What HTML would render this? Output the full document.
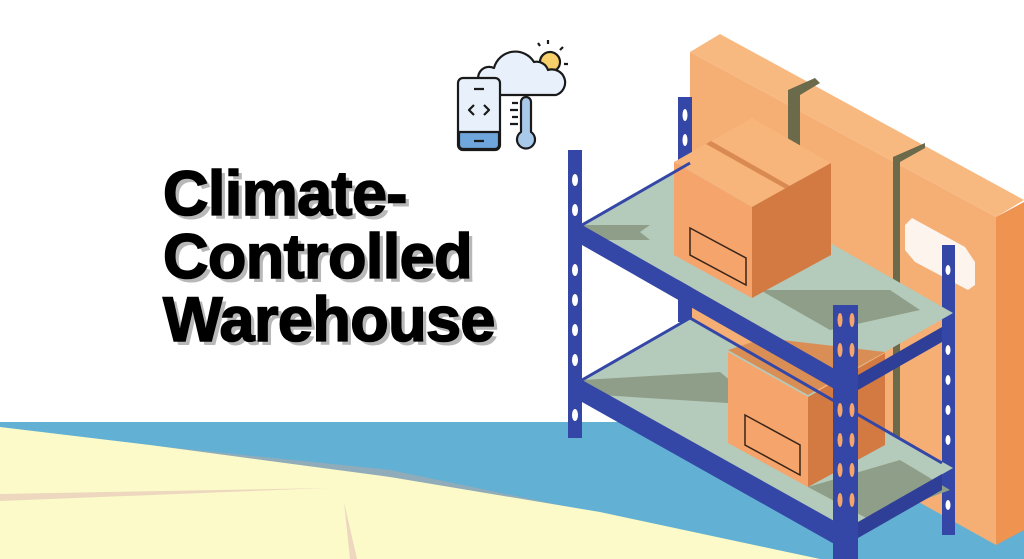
<!DOCTYPE html>
<html><head><meta charset="utf-8"><style>
html,body{margin:0;padding:0;background:#fff;width:1024px;height:559px;overflow:hidden}
.t{position:absolute;left:163px;top:163px;font-family:"Liberation Sans",sans-serif;font-weight:bold;font-size:63px;line-height:63px;color:#000;transform:scaleX(1.0);transform-origin:0 0;letter-spacing:-0.6px;-webkit-text-stroke:1.6px #000;text-shadow:4px 4px 0 #b8b8b8}
</style></head><body>
<svg width="1024" height="559" style="position:absolute;left:0;top:0">
<rect x="0" y="422" width="1024" height="137" fill="#62b0d3"/>
<polygon points="0,430 390,470 820,559 0,559" fill="#c9a79a" opacity="0.45"/>
<polygon points="0,427 150,445 300,465 390,477 600,512 820,559 0,559" fill="#fbfac8"/>
<polygon points="0,494 327,488 0,501" fill="#edd7bf"/>
<polygon points="344,502 350,559 357,559" fill="#edd7bf"/>
<!-- big boxes -->
<polygon points="690,52 720,34 1024,200 996,217" fill="#f8b980"/>
<polygon points="690,52 996,217 996,545 690,375" fill="#f5ae74"/>
<polygon points="996,217 1024,202 1024,530 996,545" fill="#ef9350"/>
<polygon points="788,90 815,78 820,83 800,95 800,430 788,423" fill="#6b6a4a"/>
<polygon points="893,157 925,143 925,148 900,162 900,490 893,486" fill="#6b6a4a"/>
<polygon points="912,218 965,247 975,262 975,285 968,290 915,262 905,250 905,225" fill="#fdf4ee"/>
<!-- back posts -->
<rect x="678" y="97" width="14" height="225" fill="#3447a6"/>
<rect x="942" y="245" width="13" height="290" fill="#3447a6"/>
<!-- upper shelf -->
<polygon points="582,225 690,163 953,313 845,375" fill="#b4cabb"/>
<polygon points="582,225 650,225 640,232 650,240 590,240" fill="#8f9e88"/>
<polygon points="760,290 890,290 920,310 830,330" fill="#8f9e88"/>
<!-- top box -->
<polygon points="674,162 752,118 831,163 752,207" fill="#f8b57b"/>
<polygon points="706,144 711,141 790,186 786,189" fill="#d98a52"/>
<polygon points="674,162 752,207 752,298 674,255" fill="#f5a46c"/>
<polygon points="752,207 831,163 831,255 752,298" fill="#d27a42"/>
<g stroke="#3a2418" fill="none" stroke-width="1.5"><polygon points="690,228 746,258 746,285 690,255"/></g>
<!-- lower shelf -->
<polygon points="582,380 690,318 953,468 845,530" fill="#b4cabb"/>
<polygon points="582,380 720,372 760,405 600,395" fill="#8f9e88"/>
<polygon points="808,487 900,460 950,490 870,520" fill="#8f9e88"/>
<!-- lower box -->
<polygon points="728,350 765,338 885,352 808,395" fill="#d98e56"/>
<polygon points="728,352 808,397 808,487 728,443" fill="#f5a46c"/>
<polygon points="808,397 885,353 885,445 808,487" fill="#d27a42"/>
<g stroke="#3a2418" fill="none" stroke-width="1.5"><polygon points="745,415 800,445 800,475 745,445"/></g>
<!-- beams -->
<polygon points="582,225 845,375 845,395 582,245" fill="#3447a6"/>
<polygon points="858,375 942,327 942,342 858,390" fill="#2f3f98"/>
<polygon points="582,380 845,527 845,550 582,402" fill="#3447a6"/>
<polygon points="858,522 942,474 942,490 858,538" fill="#2f3f98"/>
<line x1="582" y1="225" x2="690" y2="163" stroke="#3447a6" stroke-width="3"/>
<line x1="582" y1="380" x2="690" y2="318" stroke="#3447a6" stroke-width="3"/>
<line x1="690" y1="318" x2="942" y2="463" stroke="#3447a6" stroke-width="3"/>
<!-- front posts -->
<rect x="568" y="150" width="14" height="288" fill="#3447a6"/>
<rect x="833" y="305" width="25" height="254" fill="#3447a6"/>
<g fill="#fff">
<ellipse cx="575" cy="180" rx="3" ry="6"/><ellipse cx="575" cy="210" rx="3" ry="6"/><ellipse cx="575" cy="270" rx="3" ry="6"/><ellipse cx="575" cy="300" rx="3" ry="6"/><ellipse cx="575" cy="330" rx="3" ry="6"/><ellipse cx="575" cy="360" rx="3" ry="6"/><ellipse cx="575" cy="415" rx="3" ry="6"/>
<ellipse cx="685" cy="115" rx="2.5" ry="6"/><ellipse cx="685" cy="140" rx="2.5" ry="6"/>
<ellipse cx="948" cy="270" rx="2.5" ry="5"/><ellipse cx="948" cy="350" rx="2.5" ry="5"/><ellipse cx="948" cy="380" rx="2.5" ry="5"/><ellipse cx="948" cy="410" rx="2.5" ry="5"/><ellipse cx="948" cy="440" rx="2.5" ry="5"/><ellipse cx="948" cy="505" rx="2.5" ry="5"/>
</g>
<g fill="#f5a46c">
<ellipse cx="840" cy="320" rx="2.5" ry="7"/><ellipse cx="852" cy="320" rx="2.5" ry="7"/><ellipse cx="840" cy="350" rx="2.5" ry="7"/><ellipse cx="852" cy="350" rx="2.5" ry="7"/>
<ellipse cx="840" cy="410" rx="2.5" ry="7"/><ellipse cx="852" cy="410" rx="2.5" ry="7"/><ellipse cx="840" cy="440" rx="2.5" ry="7"/><ellipse cx="852" cy="440" rx="2.5" ry="7"/><ellipse cx="840" cy="470" rx="2.5" ry="7"/><ellipse cx="852" cy="470" rx="2.5" ry="7"/><ellipse cx="840" cy="500" rx="2.5" ry="7"/><ellipse cx="852" cy="500" rx="2.5" ry="7"/>
</g>
<!-- icon -->
<g stroke="#1a1a1a" stroke-width="2.2" stroke-linejoin="round">
<circle cx="550" cy="62" r="10" fill="#f7cf6b"/>
<path d="M480,84 a11,11 0 0 1 14,-16 a22,22 0 0 1 40,-6 a12,12 0 0 1 14,8 a13,13 0 0 1 8,25 h-76 z" fill="#e8f1fb"/>
<rect x="458" y="78" width="42" height="72" rx="5" fill="#e8f1fb"/>
<path d="M459,132 h40 v13 a4,4 0 0 1 -4,4 h-32 a4,4 0 0 1 -4,-4 z" fill="#6fa6dc"/>
<path d="M521,102 a5,5 0 0 1 10,0 v30 a9,9 0 1 1 -10,0 z" fill="#a9c9ea"/>
<path d="M474,105 l-5,5 5,5 M484,105 l5,5 -5,5 M474,89 h10 M474,141 h10" fill="none"/>
<path d="M512,103 h6 M510,110 h8 M512,117 h6 M510,124 h8 M548,44 v-4 M560,50 l3,-3 M564,64 h4 M540,46 l-2,-3" fill="none"/>
</g>
</svg>
<div class="t">Climate-<br>Controlled<br>Warehouse</div>
</body></html>
